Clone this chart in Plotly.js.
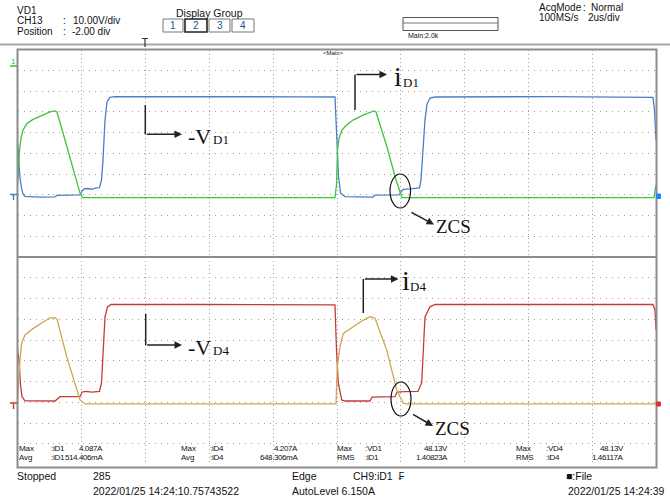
<!DOCTYPE html>
<html><head><meta charset="utf-8">
<script src="https://cdn.plot.ly/plotly-3.0.1.min.js"></script>
<style>html,body{margin:0;padding:0;background:#fff}#g{width:670px;height:500px}</style>
</head><body><div id="g"></div>
<script>
const vd1T = [0.000,0.031,0.078,0.125,0.172,0.235,0.704,1.174,1.236,1.956,2.019,2.081,2.207,2.332,2.457,2.567,2.629,2.676,2.739,2.801,2.895,3.052,5.712,8.842,9.937,9.984,10.047,10.110,10.250,11.127,11.190,11.941,12.066,12.285,12.441,12.582,12.629,12.692,12.754,12.817,12.911,13.067,16.667,19.890,19.937,19.984];
const vd1V = [25.4,16.7,8.1,3.3,0.4,-0.8,-1.1,-1.0,-0.3,-0.1,1.8,2.8,3.0,2.6,3.3,3.4,7.1,16.7,36.0,44.7,46.9,47.3,47.4,47.2,47.1,31.2,9.0,0.8,-0.9,-1.1,-0.2,-0.1,2.6,2.8,3.1,3.3,7.1,21.6,36.0,43.7,46.6,47.1,47.3,46.9,40.8,26.4];

const id1T = [0.000,0.031,0.063,0.110,0.172,0.297,0.485,0.798,1.017,1.174,1.236,1.549,1.800,1.956,2.050,5.712,9.937,9.984,10.016,10.063,10.157,10.282,10.501,10.814,11.033,11.158,11.221,11.565,11.847,11.972,12.035,16.000,19.922,19.984];
const id1A = [0.47,1.43,2.16,2.73,3.12,3.43,3.63,3.84,3.99,4.04,3.99,2.30,0.95,0.08,-0.14,-0.14,-0.14,0.47,2.16,2.73,3.12,3.34,3.60,3.84,3.99,4.04,3.99,2.30,0.71,0.08,-0.14,-0.14,-0.14,0.47];

const vd4T = [0.000,0.047,0.094,0.141,0.235,1.174,1.330,1.956,2.019,2.144,2.332,2.567,2.629,2.676,2.739,2.817,2.926,5.712,9.937,9.984,10.041,10.147,10.250,11.033,11.096,11.815,11.878,12.128,12.535,12.650,12.707,12.754,12.911,13.067,19.890,19.953,19.984];
const vd4V = [25.2,20.4,8.3,2.7,0.7,0.6,2.7,2.7,4.9,5.2,4.9,5.2,9.3,25.2,41.1,45.9,47.1,47.1,46.9,25.2,9.3,1.1,0.6,0.6,2.5,2.7,4.9,5.1,5.2,9.3,25.2,41.1,46.0,47.1,47.1,44.5,34.8];

const id4T = [0.000,0.025,0.047,0.078,0.131,0.235,0.495,0.808,1.017,1.174,1.236,1.540,1.956,2.113,9.969,10.009,10.094,10.197,10.510,10.823,11.033,11.190,11.556,11.869,12.075,12.160,19.984];
const id4A = [0.11,0.75,1.55,2.04,2.86,3.24,3.56,3.88,4.07,4.08,4.01,2.20,0.11,-0.08,-0.08,1.71,2.68,3.32,3.64,3.96,4.12,4.05,2.52,0.59,-0.05,-0.08,-0.08];

// scope settings: 10 V/div, 1 A/div, position -2 div, 2 us/div
const timeRange = [0, 20];
const voltRange = [-30, 70];
const ampRange = [-3, 7];

// measurement readouts
const measLabels = ['Max', 'Avg', 'Max', 'Avg', 'Max', 'RMS', 'Max', 'RMS'];
const measChans = [':iD1', ':iD1', ':iD4', ':iD4', ':VD1', ':iD1', ':VD4', ':iD4'];
const measValues = ['4.087A', '514.406mA', '4.207A', '648.306mA', '48.13V', '1.40823A', '48.13V', '1.46117A'];

const SCOPE = 'Liberation Sans Narrow, Liberation Sans, sans-serif';
const SERIF = 'Liberation Serif, Times New Roman, serif';
const W = 670, H = 500;
const px = x => x / W, py = y => 1 - y / H;

function txt(s, x, y, o) {
  const a = {xref:'paper', yref:'paper', x:px(x), y:py(y), text:s, showarrow:false,
    xanchor:'left', yanchor:'middle', borderpad:0,
    font:{family:SCOPE, size:10, color:'#111'}};
  return Object.assign(a, o || {});
}
const tight = (s, ls) => '<span style="letter-spacing:' + ls + 'px">' + s + '</span>';
function arrow(fx, fy, tx, ty) {
  return {xref:'paper', yref:'paper', x:px(tx), y:py(ty), ax:fx - tx, ay:fy - ty,
    text:'', showarrow:true, arrowhead:2, arrowsize:1, arrowwidth:1.5, arrowcolor:'#222'};
}
function seg(x0, y0, x1, y1, color, w) {
  return {type:'line', xref:'paper', yref:'paper', x0:px(x0), y0:py(y0), x1:px(x1), y1:py(y1),
    line:{color:color, width:w}, layer:'above'};
}
function rect(x0, y0, x1, y1, color, w, fill) {
  return {type:'rect', xref:'paper', yref:'paper', x0:px(x0), y0:py(y0), x1:px(x1), y1:py(y1),
    line:{color:color, width:w}, fillcolor:fill || 'rgba(0,0,0,0)', layer:'above'};
}
function ell(x0, y0, x1, y1) {
  return {type:'circle', xref:'paper', yref:'paper', x0:px(x0), y0:py(y1), x1:px(x1), y1:py(y0),
    line:{color:'#111', width:1.2}, layer:'above'};
}

const ln = (c) => ({color:c, width:1.3});
const traces = [
  {x:vd1T, y:vd1V, xaxis:'x', yaxis:'y', mode:'lines', line:ln('#4a7ec6'), name:'VD1'},
  {x:id1T, y:id1A, xaxis:'x', yaxis:'y2', mode:'lines', line:ln('#3cc43c'), name:'iD1'},
  {x:vd4T, y:vd4V, xaxis:'x', yaxis:'y3', mode:'lines', line:ln('#c83a3a'), name:'VD4'},
  {x:id4T, y:id4A, xaxis:'x', yaxis:'y4', mode:'lines', line:ln('#cfa64e'), name:'iD4'}
];

const topDom = [py(257), py(49.5)];
const botDom = [py(464.5), py(257)];
const gridC = '#a0a0a0';
const yBase = {showticklabels:false, ticks:'', zeroline:false, showline:false,
  showgrid:true, gridcolor:gridC, gridwidth:1, griddash:'1px,5px', dtick:10, fixedrange:true};

// measurement layout: column x (label, channel, value right edge), row y
const colX = [[18, 50, 104], [180, 209, 299], [336, 364, 449], [515, 545, 625]];
const rowY = [448, 457.5];
const measAnn = [];
measLabels.forEach((lab, i) => {
  const c = colX[Math.floor(i / 2)], y = rowY[i % 2];
  const f = {family:SCOPE, size:8, color:'#111'};
  measAnn.push(txt(tight(lab, -0.1), c[0], y, {font:f}));
  measAnn.push(txt(tight(measChans[i], -0.3), c[1], y, {font:f}));
  measAnn.push(txt(tight(measValues[i], -0.4), c[2], y, {font:f, xanchor:'right'}));
});

const stat = {family:SCOPE, size:10.5, color:'#111'};
const layout = {
  width:W, height:H, margin:{l:0, r:0, t:0, b:0},
  paper_bgcolor:'#fff', plot_bgcolor:'rgba(0,0,0,0)', showlegend:false,
  xaxis:{domain:[px(17.5), px(656.5)], range:timeRange, dtick:2, showticklabels:false, ticks:'',
    zeroline:false, showline:false, showgrid:true, gridcolor:gridC, gridwidth:1, griddash:'1px,3px', anchor:'y'},
  yaxis:Object.assign({}, yBase, {domain:topDom, range:voltRange}),
  yaxis2:{overlaying:'y', range:ampRange, visible:false, showgrid:false},
  yaxis3:Object.assign({}, yBase, {domain:botDom, range:voltRange, anchor:'x'}),
  yaxis4:{overlaying:'y3', range:ampRange, visible:false, showgrid:false},
  shapes:[
    seg(0, 44.5, 670, 44.5, '#a8a8a8', 2),
    rect(17.5, 49.5, 656.5, 467.5, '#8c8c8c', 2),
    seg(17.5, 257, 656.5, 257, '#8c8c8c', 2),
    rect(163, 19, 183, 32, '#777', 1), rect(185, 19, 207, 32, '#222', 1.6),
    rect(209, 19, 230, 32, '#777', 1), rect(232, 19, 254, 32, '#777', 1),
    rect(403, 17.5, 498, 30.5, '#555', 1), seg(403, 23, 498, 23, '#777', 1),
    seg(142, 38.5, 148, 38.5, '#333', 1), seg(145, 38.5, 145, 47, '#333', 1.2),
    seg(10, 66, 17, 66, '#2fbf2f', 1.5),
    seg(10, 194.5, 17, 194.5, '#4a7ec6', 1.5), seg(13.5, 194.5, 13.5, 200, '#4a7ec6', 1.5),
    seg(10, 403, 17, 403, '#c83a3a', 1.5), seg(13.5, 403, 13.5, 409, '#c83a3a', 1.5),
    rect(656.5, 194, 660.5, 198.5, '#1e88ff', 1, '#1e88ff'),
    rect(656.5, 402, 660.5, 406, '#e03030', 1, '#e03030'),
    seg(145.3, 105, 145.3, 134.3, '#222', 1.5),
    seg(355, 110, 355, 74.5, '#222', 1.5),
    seg(145.7, 314, 145.7, 345, '#222', 1.5),
    seg(363.3, 313, 363.3, 279, '#222', 1.5),
    ell(390, 174, 410.5, 208),
    ell(391, 382, 411, 416)
  ],
  annotations:[
    txt('VD1', 16, 10), txt('CH13', 16, 20.5), txt(':', 62, 20.5), txt('10.00V/div', 72, 20.5),
    txt('Position', 16, 31), txt(':', 62, 31), txt('-2.00 div', 71, 31),
    txt('Display Group', 175, 13, {font:{family:SCOPE, size:10.5, color:'#111'}}),
    txt('1', 173, 25.5, {xanchor:'center', font:{family:SCOPE, size:10, color:'#1a4f9c'}}),
    txt('2', 196, 25.5, {xanchor:'center', font:{family:SCOPE, size:10, color:'#1a4f9c'}}),
    txt('3', 219.5, 25.5, {xanchor:'center', font:{family:SCOPE, size:10, color:'#1a4f9c'}}),
    txt('4', 243, 25.5, {xanchor:'center', font:{family:SCOPE, size:10, color:'#1a4f9c'}}),
    txt('Main:2.0k', 407, 35.5, {font:{family:SCOPE, size:7, color:'#111'}}),
    txt('AcqMode', 538, 7.5), txt(':', 582, 7.5), txt('Normal', 590, 7.5),
    txt('100MS/s', 538, 17.5), txt('2us/div', 587, 17.5),
    txt('&lt;Main&gt;', 322, 53.5, {font:{family:SCOPE, size:6, color:'#111'}}),
    txt('1', 13.5, 61.5, {xanchor:'center', font:{family:SCOPE, size:8, color:'#2fbf2f'}}),
    ...measAnn,
    txt('Stopped', 16, 476, {font:stat}), txt('285', 92, 476, {font:stat}),
    txt('2022/01/25 14:24:10.75743522', 92, 491, {font:stat}),
    txt('Edge', 291, 476, {font:stat}), txt('CH9:iD1  \u20A3', 352, 476, {font:stat}),
    txt('AutoLevel 6.150A', 291, 491, {font:stat}),
    txt('\u25A0:File', 565, 476, {font:stat}),
    txt('2022/01/25 14:24:39', 666, 491, {font:stat, xanchor:'right'}),
    arrow(145.3, 134.3, 182, 134.3),
    arrow(355, 74.5, 387, 74.5),
    arrow(145.7, 345, 182, 345),
    arrow(363.3, 279, 398.5, 279),
    arrow(410, 211.5, 434, 224.5),
    arrow(411.5, 413.5, 433, 426),
    txt('-V', 187, 136.5, {font:{family:SERIF, size:22, color:'#111'}}),
    txt('D1', 211.5, 139.5, {font:{family:SERIF, size:13, color:'#111'}}),
    txt('-V', 187, 347, {font:{family:SERIF, size:22, color:'#111'}}),
    txt('D4', 211.5, 350, {font:{family:SERIF, size:13, color:'#111'}}),
    txt('i', 393, 76, {font:{family:SERIF, size:28, color:'#111'}}),
    txt('D1', 401.5, 82, {font:{family:SERIF, size:13, color:'#111'}}),
    txt('i', 401, 280, {font:{family:SERIF, size:28, color:'#111'}}),
    txt('D4', 409.5, 286, {font:{family:SERIF, size:13, color:'#111'}}),
    txt('ZCS', 435, 226.5, {font:{family:SERIF, size:19, color:'#111'}}),
    txt('ZCS', 434, 428, {font:{family:SERIF, size:19, color:'#111'}})
  ]
};

Plotly.newPlot('g', traces, layout, {staticPlot:true, displayModeBar:false});
</script>
</body></html>
